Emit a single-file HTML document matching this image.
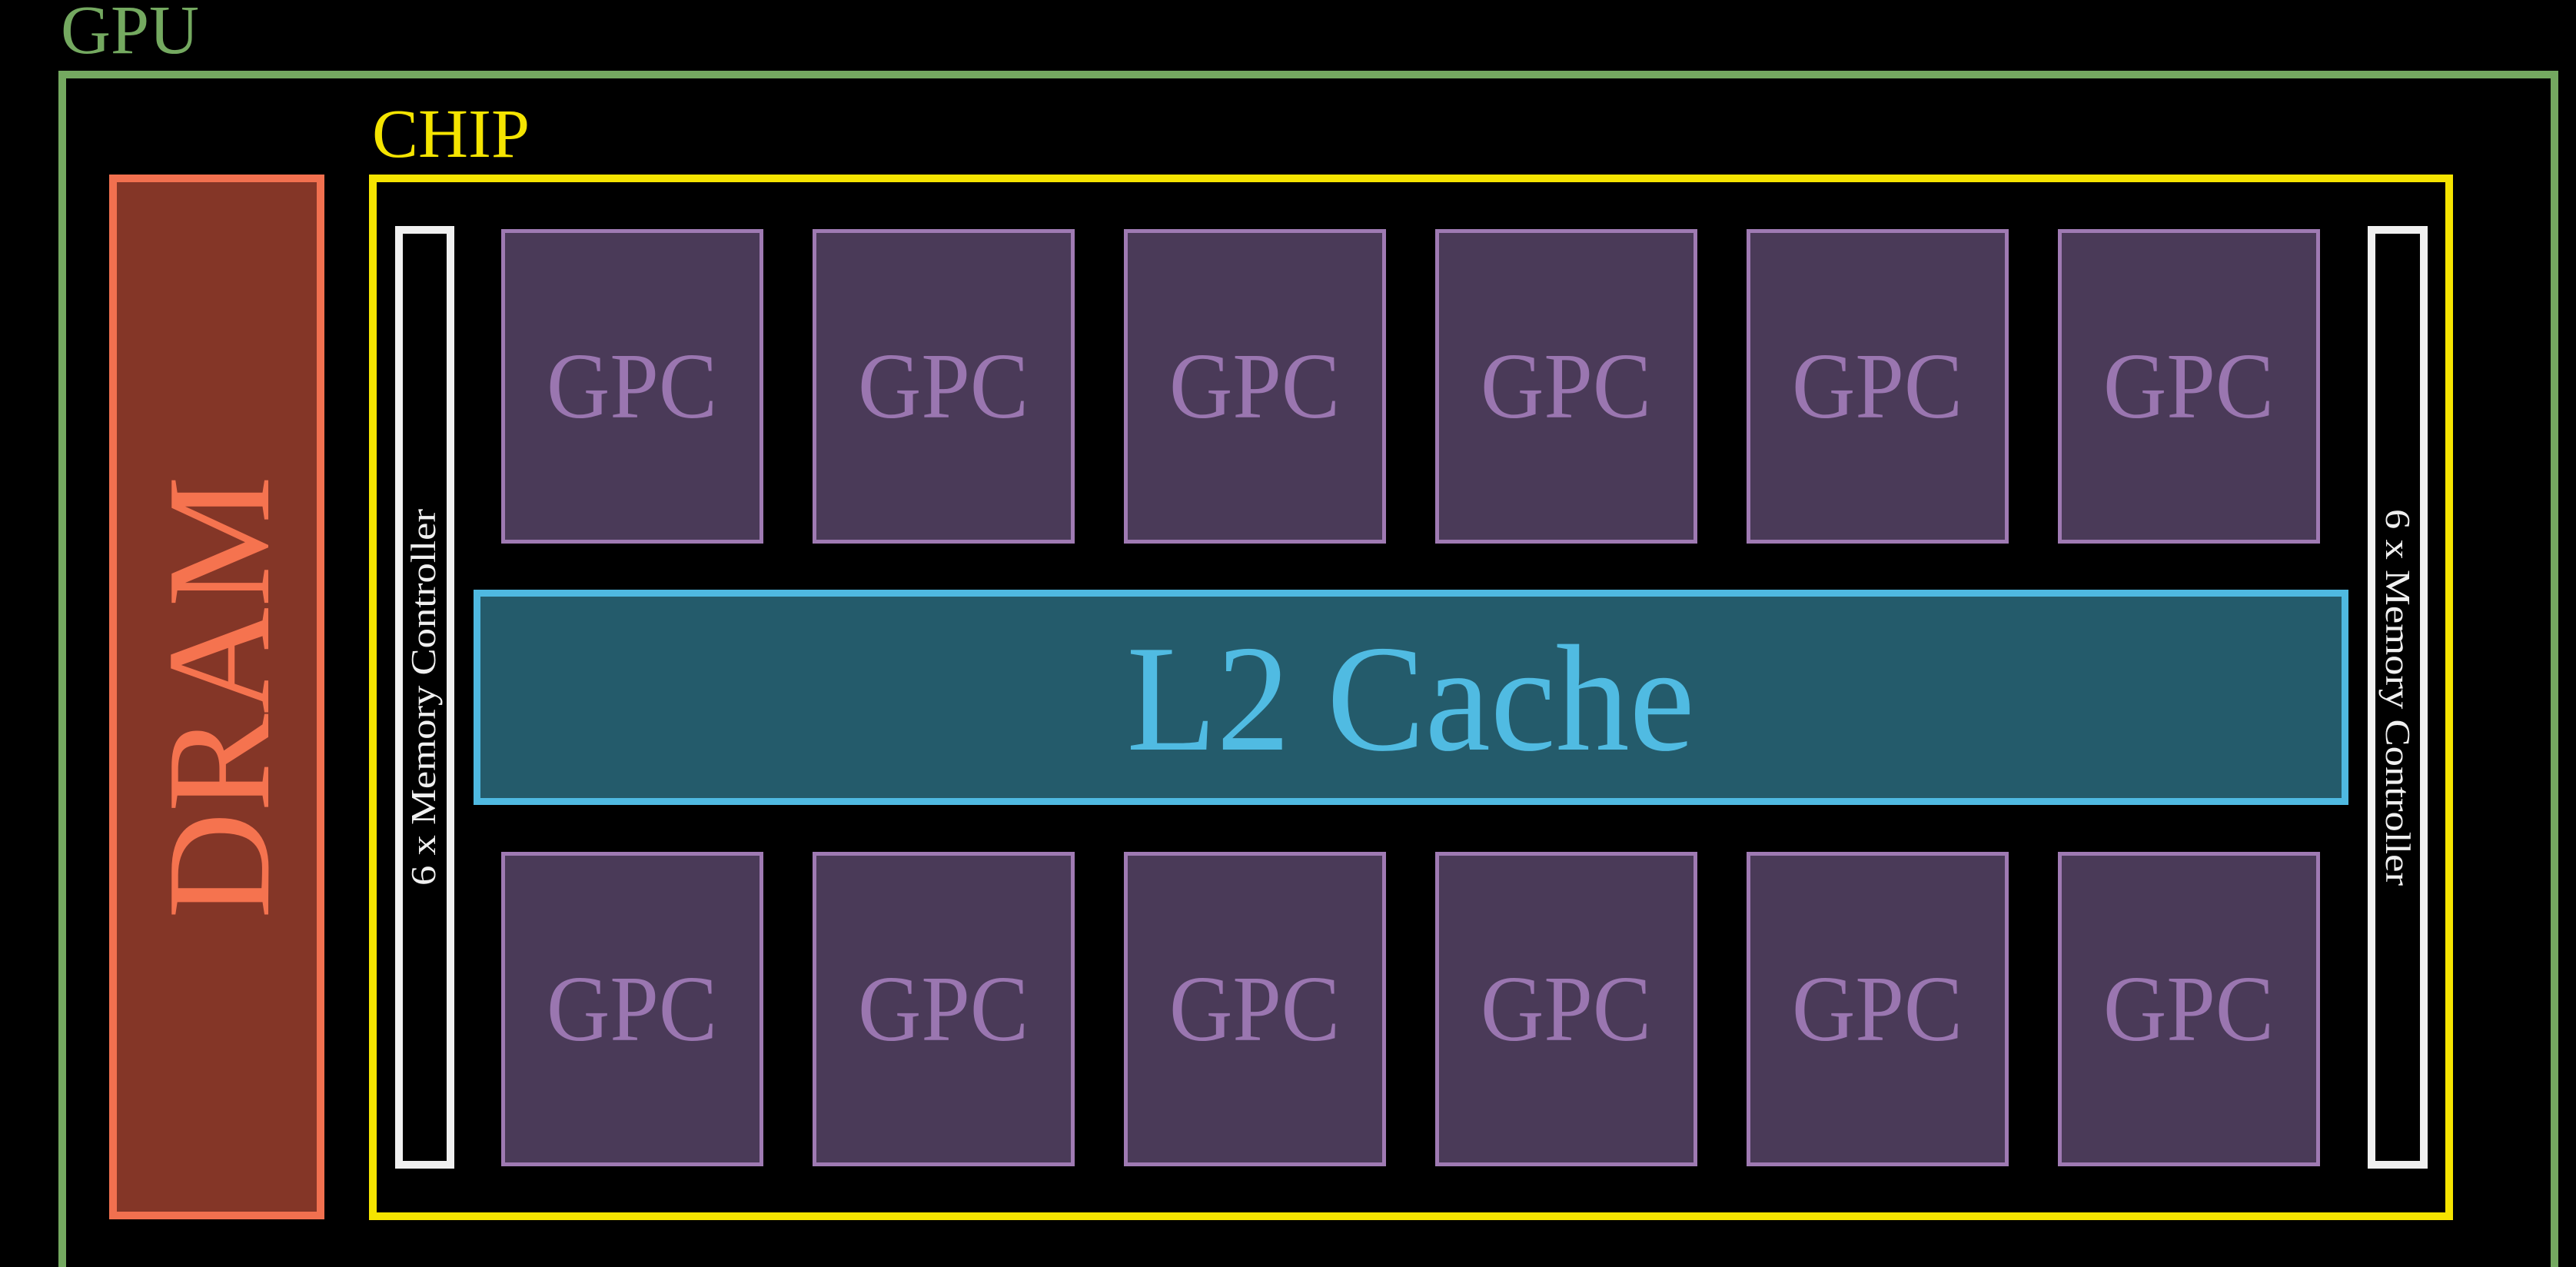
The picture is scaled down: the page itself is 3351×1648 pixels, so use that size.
<!DOCTYPE html>
<html><head><meta charset="utf-8"><style>
html,body{margin:0;padding:0;background:#000;width:3351px;height:1648px;overflow:hidden}
svg{display:block}
text{font-family:"Liberation Serif",serif}
</style></head><body>
<svg width="3351" height="1648" viewBox="0 0 3351 1648" xmlns="http://www.w3.org/2000/svg">
<rect width="3351" height="1648" fill="#000"/>
<text x="79" y="69" font-size="90" fill="#74a960">GPU</text>
<path d="M81 1648 V97 H3323 V1648" fill="none" stroke="#74a960" stroke-width="10"/>
<text x="484" y="204" font-size="90" fill="#f5e400">CHIP</text>
<rect x="485" y="232" width="2701" height="1350" fill="none" stroke="#f5e400" stroke-width="10"/>
<rect x="147" y="232" width="270" height="1349" fill="#843627" stroke="#f1704f" stroke-width="10"/>
<text transform="translate(349,907) rotate(-90)" text-anchor="middle" font-size="192" fill="#f5734f">DRAM</text>
<rect x="519" y="299" width="67" height="1216" fill="none" stroke="#f0f0f0" stroke-width="10"/>
<text transform="translate(566,907) rotate(-90)" text-anchor="middle" font-size="46" fill="#f0f0f0" textLength="490" lengthAdjust="spacingAndGlyphs">6 x Memory Controller</text>
<rect x="3085" y="299" width="68" height="1216" fill="none" stroke="#f0f0f0" stroke-width="10"/>
<text transform="translate(3104,907) rotate(90)" text-anchor="middle" font-size="46" fill="#f0f0f0" textLength="490" lengthAdjust="spacingAndGlyphs">6 x Memory Controller</text>
<g fill="#4a3a58" stroke="#9f7ab3" stroke-width="5">
<rect x="654.5" y="300.5" width="336" height="404"/>
<rect x="1059.5" y="300.5" width="336" height="404"/>
<rect x="1464.5" y="300.5" width="336" height="404"/>
<rect x="1869.5" y="300.5" width="336" height="404"/>
<rect x="2274.5" y="300.5" width="336" height="404"/>
<rect x="2679.5" y="300.5" width="336" height="404"/>
<rect x="654.5" y="1110.5" width="336" height="404"/>
<rect x="1059.5" y="1110.5" width="336" height="404"/>
<rect x="1464.5" y="1110.5" width="336" height="404"/>
<rect x="1869.5" y="1110.5" width="336" height="404"/>
<rect x="2274.5" y="1110.5" width="336" height="404"/>
<rect x="2679.5" y="1110.5" width="336" height="404"/>
</g>
<g font-size="122" fill="#9a76b0" text-anchor="middle">
<text x="822" y="543" textLength="222" lengthAdjust="spacingAndGlyphs">GPC</text><text x="1227" y="543" textLength="222" lengthAdjust="spacingAndGlyphs">GPC</text><text x="1632" y="543" textLength="222" lengthAdjust="spacingAndGlyphs">GPC</text>
<text x="2037" y="543" textLength="222" lengthAdjust="spacingAndGlyphs">GPC</text><text x="2442" y="543" textLength="222" lengthAdjust="spacingAndGlyphs">GPC</text><text x="2847" y="543" textLength="222" lengthAdjust="spacingAndGlyphs">GPC</text>
<text x="822" y="1353" textLength="222" lengthAdjust="spacingAndGlyphs">GPC</text><text x="1227" y="1353" textLength="222" lengthAdjust="spacingAndGlyphs">GPC</text><text x="1632" y="1353" textLength="222" lengthAdjust="spacingAndGlyphs">GPC</text>
<text x="2037" y="1353" textLength="222" lengthAdjust="spacingAndGlyphs">GPC</text><text x="2442" y="1353" textLength="222" lengthAdjust="spacingAndGlyphs">GPC</text><text x="2847" y="1353" textLength="222" lengthAdjust="spacingAndGlyphs">GPC</text>
</g>
<rect x="620.5" y="771.5" width="2430" height="271" fill="#245b6b" stroke="#4fb9e1" stroke-width="9"/>
<text x="1835" y="975" font-size="198" fill="#50bbe2" text-anchor="middle" textLength="739" lengthAdjust="spacingAndGlyphs">L2 Cache</text>
</svg>
</body></html>
